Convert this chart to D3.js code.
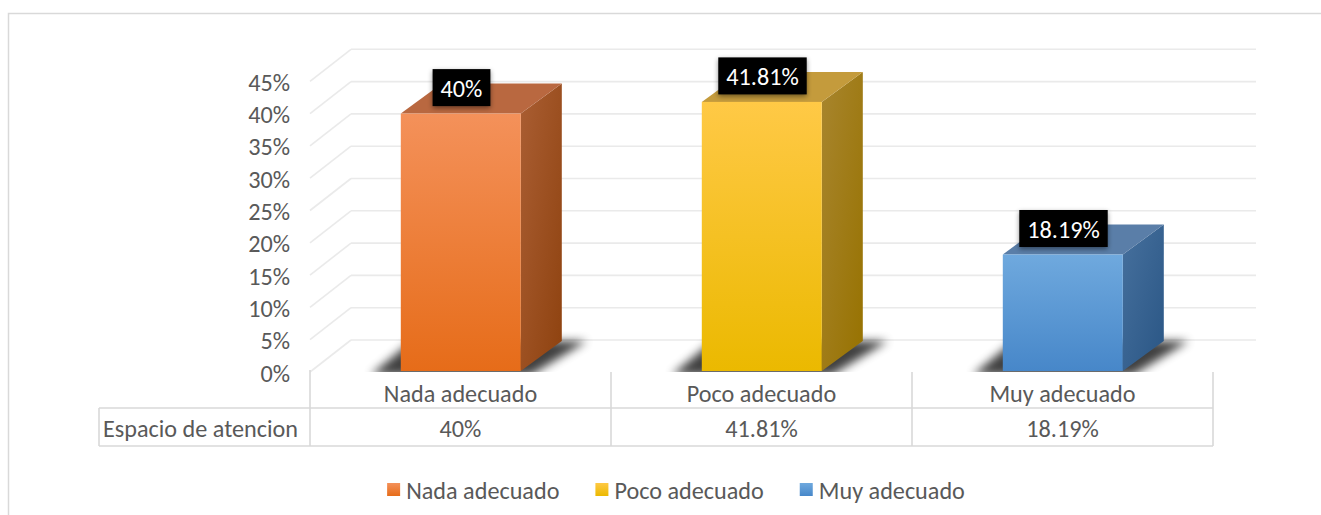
<!DOCTYPE html>
<html>
<head>
<meta charset="utf-8">
<script src="https://cdn.jsdelivr.net/npm/d3@7"></script>
<style>
  html, body { margin: 0; padding: 0; background: #fff; }
  svg { display: block; }
</style>
</head>
<body>
<svg id="chart" width="1321" height="515"></svg>
<script>
// ---------- data ----------
const categories = ["Nada adecuado", "Poco adecuado", "Muy adecuado"];
const values = [40, 41.81, 18.19];
const valueLabels = ["40%", "41.81%", "18.19%"];
const seriesName = "Espacio de atencion";
const tickValues = [0, 5, 10, 15, 20, 25, 30, 35, 40, 45];
const tickLabels = ["0%", "5%", "10%", "15%", "20%", "25%", "30%", "35%", "40%", "45%"];

// ---------- styles ----------
const palette = [
  { top: "#B96840", frontA: "#F4915A", frontB: "#E66C19", sideA: "#AA5E33", sideB: "#8E420F" },
  { top: "#C49B3C", frontA: "#FFC946", frontB: "#EBB900", sideA: "#A8852E", sideB: "#977200" },
  { top: "#5A7EA8", frontA: "#6FA9DE", frontB: "#4787C9", sideA: "#46709D", sideB: "#2A5685" }
];
const FONT = "Carlito, Lato, sans-serif";
const TEXT = "#595959";
const GRID = "#EAEAEA";
const LINE = "#D9D9D9";

const svg = d3.select("#chart");

// fit font size so that text width matches the Calibri-like reference
const probe = svg.append("text").attr("font-family", FONT).attr("font-size", 100).text(seriesName);
const probeW = probe.node().getComputedTextLength();
probe.remove();
const FS = Math.min(26, Math.max(16, 100 * 195 / probeW));

// ---------- geometry ----------
const floorY = 372, topY = 81.3;
const wallDx = 41, wallDy = -32;
const barDx = 41, barDy = -30;
const barW = 120;
const y = d3.scaleLinear().domain([0, 45]).range([floorY, topY]);
const x = d3.scaleBand().domain(categories).range([310, 1213]);
const tableLeft = 99, row1 = 408, row2 = 446;
const wallRight = 1256;

const defs = svg.append("defs");
palette.forEach((p, i) => {
  const gf = defs.append("linearGradient").attr("id", "front" + i).attr("x1", 0).attr("y1", 0).attr("x2", 0).attr("y2", 1);
  gf.append("stop").attr("offset", 0).attr("stop-color", p.frontA);
  gf.append("stop").attr("offset", 1).attr("stop-color", p.frontB);
  const gs = defs.append("linearGradient").attr("id", "side" + i).attr("x1", 0).attr("y1", 0).attr("x2", 1).attr("y2", 1);
  gs.append("stop").attr("offset", 0).attr("stop-color", p.sideA);
  gs.append("stop").attr("offset", 1).attr("stop-color", p.sideB);
});
const blur = defs.append("filter").attr("id", "shadowBlur").attr("x", "-50%").attr("y", "-50%").attr("width", "200%").attr("height", "200%");
blur.append("feGaussianBlur").attr("stdDeviation", 5);
const lblShadow = defs.append("filter").attr("id", "lblShadow").attr("x", "-30%").attr("y", "-30%").attr("width", "160%").attr("height", "170%");
lblShadow.append("feDropShadow").attr("dx", 0).attr("dy", 2).attr("stdDeviation", 2.5).attr("flood-color", "#000").attr("flood-opacity", 0.45);
defs.append("clipPath").attr("id", "floorClip").append("rect")
  .attr("x", 0).attr("y", 0).attr("width", 1321).attr("height", floorY);

// chart frame
svg.append("rect").attr("x", 8.5).attr("y", 13.5).attr("width", 1330).attr("height", 520)
  .attr("fill", "none").attr("stroke", LINE).attr("stroke-width", 1.5);

// ---------- gridlines (back wall + side diagonals) ----------
const grid = svg.append("g");
grid.selectAll("line.back").data(tickValues).join("line")
  .attr("x1", 310 + wallDx).attr("x2", wallRight)
  .attr("y1", d => y(d) + wallDy).attr("y2", d => y(d) + wallDy)
  .attr("stroke", GRID).attr("stroke-width", 1.6);
grid.selectAll("line.side").data(tickValues).join("line")
  .attr("x1", 310).attr("x2", 310 + wallDx)
  .attr("y1", d => y(d)).attr("y2", d => y(d) + wallDy)
  .attr("stroke", GRID).attr("stroke-width", 1.6);

// y tick labels
svg.append("g").selectAll("text").data(tickValues).join("text")
  .attr("x", 290).attr("y", d => y(d) + 1)
  .attr("text-anchor", "end").attr("dominant-baseline", "central")
  .attr("font-family", FONT).attr("font-size", FS).attr("fill", TEXT)
  .text((d, i) => tickLabels[i]);

// ---------- bars ----------
const bars = svg.append("g");
categories.forEach((c, i) => {
  const cx = x(c) + x.bandwidth() / 2 + 0.3;
  const x0 = cx - barW / 2, x1 = cx + barW / 2;
  const yt = y(values[i]), yb = floorY - 1;
  // floor shadow
  bars.append("g").attr("clip-path", "url(#floorClip)").append("polygon")
    .attr("points", [[x0 - 30, yb + 4], [x1 + 10, yb + 4], [x1 + barDx + 25, yb + barDy], [x0 + barDx - 30, yb + barDy]].map(p => p.join(",")).join(" "))
    .attr("fill", "#000").attr("opacity", 0.75).attr("filter", "url(#shadowBlur)");
  // side face
  bars.append("polygon")
    .attr("points", [[x1, yt], [x1 + barDx, yt + barDy], [x1 + barDx, yb + barDy], [x1, yb]].map(p => p.join(",")).join(" "))
    .attr("fill", `url(#side${i})`);
  // top face
  bars.append("polygon")
    .attr("points", [[x0, yt], [x0 + barDx, yt + barDy], [x1 + barDx, yt + barDy], [x1, yt]].map(p => p.join(",")).join(" "))
    .attr("fill", palette[i].top);
  // front face
  bars.append("rect").attr("x", x0).attr("y", yt).attr("width", barW).attr("height", yb - yt)
    .attr("fill", `url(#front${i})`);
});

// data labels
const labels = svg.append("g");
categories.forEach((c, i) => {
  const cx = x(c) + x.bandwidth() / 2 + 1;
  const cy = y(values[i]) - 26;
  const t = labels.append("text")
    .attr("x", cx).attr("y", cy + 1)
    .attr("text-anchor", "middle").attr("dominant-baseline", "central")
    .attr("font-family", FONT).attr("font-size", FS).attr("fill", "#fff")
    .text(valueLabels[i]);
  const w = t.node().getComputedTextLength() + 16;
  labels.insert("rect", "text")
    .attr("x", cx - w / 2).attr("y", cy - 18.5).attr("width", w).attr("height", 37)
    .attr("fill", "#000").attr("filter", "url(#lblShadow)");
});

// ---------- data table ----------
const table = svg.append("g").attr("stroke", LINE).attr("stroke-width", 1.6);
const colEdges = categories.map(c => x(c)).concat([x(categories[categories.length - 1]) + x.bandwidth()]);
table.selectAll("line.v").data(colEdges).join("line")
  .attr("x1", d => d).attr("x2", d => d).attr("y1", (d, i) => i === 0 ? 370 : floorY).attr("y2", row2);
table.append("line").attr("x1", tableLeft).attr("x2", colEdges[colEdges.length - 1]).attr("y1", row1).attr("y2", row1);
table.append("line").attr("x1", tableLeft).attr("x2", colEdges[colEdges.length - 1]).attr("y1", row2).attr("y2", row2);
table.append("line").attr("x1", tableLeft).attr("x2", tableLeft).attr("y1", row1).attr("y2", row2);

svg.append("g").selectAll("text").data(categories).join("text")
  .attr("x", d => x(d) + x.bandwidth() / 2).attr("y", 393)
  .attr("text-anchor", "middle").attr("dominant-baseline", "central")
  .attr("font-family", FONT).attr("font-size", FS).attr("fill", TEXT)
  .text(d => d);
svg.append("g").selectAll("text").data(valueLabels).join("text")
  .attr("x", (d, i) => x(categories[i]) + x.bandwidth() / 2).attr("y", 428)
  .attr("text-anchor", "middle").attr("dominant-baseline", "central")
  .attr("font-family", FONT).attr("font-size", FS).attr("fill", TEXT)
  .text(d => d);
svg.append("text").attr("x", 103).attr("y", 428)
  .attr("dominant-baseline", "central")
  .attr("font-family", FONT).attr("font-size", FS).attr("fill", TEXT)
  .text(seriesName);

// ---------- legend ----------
const legend = svg.append("g");
const sq = 13, gapSq = 6, gapItem = 36;
const items = categories.map((c, i) => {
  const g = legend.append("g");
  g.append("rect").attr("width", sq).attr("height", sq).attr("y", 483).attr("fill", `url(#front${i})`);
  const t = g.append("text").attr("x", sq + gapSq).attr("y", 490)
    .attr("dominant-baseline", "central")
    .attr("font-family", FONT).attr("font-size", FS).attr("fill", TEXT).text(c);
  return { g, w: sq + gapSq + t.node().getComputedTextLength() };
});
const total = d3.sum(items, d => d.w) + gapItem * (items.length - 1);
let lx = 676 - total / 2;
items.forEach(it => { it.g.attr("transform", `translate(${lx},0)`); lx += it.w + gapItem; });
</script>
</body>
</html>
